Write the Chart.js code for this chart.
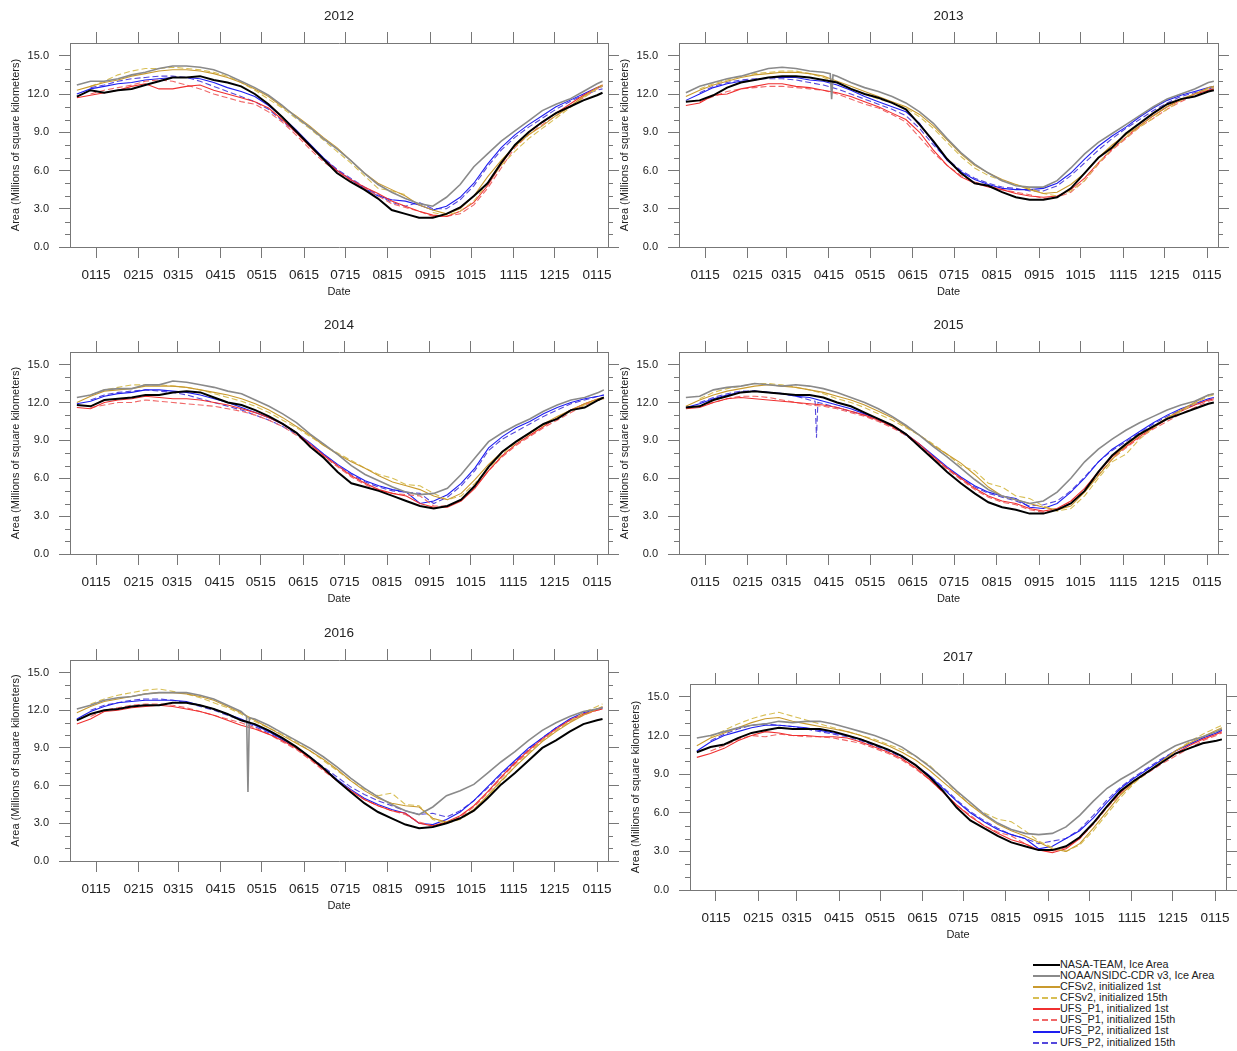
<!DOCTYPE html>
<html>
<head>
<meta charset="utf-8">
<script src="https://cdn.jsdelivr.net/npm/chart.js@4.4.1/dist/chart.umd.min.js"></script>
<style>
  body { margin: 0; background: #fff; width: 1237px; height: 1051px; position: relative; overflow: hidden;
         font-family: "Liberation Sans", Arial, Helvetica, sans-serif; }
  canvas { position: absolute; }
  #legend { position: absolute; left: 1033px; top: 958.7px; }
  #legend .row { height: 11.14px; line-height: 11.14px; font-size: 10.8px; color: #222; white-space: nowrap; }
  #legend .ln { display: inline-block; width: 27px; height: 2px; vertical-align: middle; }
</style>
</head>
<body>
<div id="legend"></div>
<script>
// ================= DATA =================
// day of year (Jan 1 = 0), sampled every 10 days up to Jan 19 of the next year
const days = [0, 10, 20, 30, 40, 50, 60, 70, 80, 90,
              100, 110, 120, 130, 140, 150, 160, 170, 180, 190,
              200, 210, 220, 230, 240, 250, 260, 270, 280, 290,
              300, 310, 320, 330, 340, 350, 360, 370, 380, 384];

// ticks on the 15th of each month (non leap year)
const tickDays = [14, 45, 73, 104, 134, 165, 195, 226, 257, 287, 318, 348, 379];
const tickLabels = ['0115', '0215', '0315', '0415', '0515', '0615', '0715', '0815', '0915', '1015', '1115', '1215', '0115'];
const yTicks = [0, 3, 6, 9, 12, 15];
const yMinorTicks = [1, 2, 4, 5, 7, 8, 10, 11, 13, 14];

const seriesNames = ['NASA-TEAM, Ice Area', 'NOAA/NSIDC-CDR v3, Ice Area',
                     'CFSv2, initialized 1st', 'CFSv2, initialized 15th',
                     'UFS_P1, initialized 1st', 'UFS_P1, initialized 15th',
                     'UFS_P2, initialized 1st', 'UFS_P2, initialized 15th'];

// rows: NASA-TEAM, NOAA, CFSv2 1st, CFSv2 15th, UFS_P1 1st, UFS_P1 15th, UFS_P2 1st, UFS_P2 15th
const area2012 = [
  [11.8,12.3,12.1,12.3,12.4,12.7,13.0,13.3,13.3,13.4, 13.1,12.9,12.6,12.0,11.2,10.2,9.1,8.0,6.9,5.8, 5.1,4.5,3.8,2.9,2.6,2.3,2.3,2.6,3.1,4.0, 5.0,6.6,8.0,9.0,9.8,10.5,11.0,11.5,11.9,12.1],
  [12.7,13.0,13.0,13.2,13.5,13.7,14.0,14.2,14.2,14.1, 13.9,13.5,13.0,12.5,11.9,11.1,10.2,9.4,8.5,7.7, 6.8,5.8,4.9,4.3,3.8,3.4,3.2,3.9,4.9,6.3, 7.3,8.3,9.1,9.9,10.7,11.2,11.6,12.2,12.8,13.0],
  [12.3,12.6,12.9,13.1,13.4,13.6,13.8,13.9,13.9,13.8, 13.6,13.3,12.9,12.4,11.8,11.0,10.3,9.5,8.6,7.8, 6.8,5.8,5.0,4.5,4.0,3.3,2.9,2.6,3.0,4.0, 5.5,6.8,7.9,8.8,9.5,10.3,11.0,11.8,12.5,12.7],
  [null,12.6,13.0,13.5,13.8,14.0,14.0,14.1,14.0,13.9, 13.7,13.4,12.9,12.3,11.6,10.9,10.1,9.3,8.4,7.5, 6.6,5.6,4.6,4.4,4.1,null,2.7,2.5,2.8,3.6, 5.0,6.4,7.5,8.5,9.3,10.1,10.9,11.7,12.4,12.6],
  [11.7,11.9,12.1,12.3,12.6,12.8,12.4,12.4,12.6,12.7, 12.3,12.0,11.7,11.4,10.9,10.0,9.0,7.9,6.9,6.0, 5.3,4.7,4.2,3.6,3.2,2.8,2.5,2.4,2.8,3.5, 4.8,6.5,8.0,9.0,9.8,10.5,11.2,11.9,12.5,12.7],
  [null,12.0,12.3,12.5,12.7,13.0,13.1,13.0,12.7,12.4, 12.0,11.7,11.4,11.2,10.6,9.8,8.8,7.7,6.7,5.9, 5.2,4.6,4.0,3.4,3.1,2.8,2.4,2.4,2.6,3.3, 4.6,6.2,7.8,8.8,9.6,10.3,11.0,11.7,12.4,12.6],
  [12.0,12.4,12.6,12.8,12.9,13.1,13.2,13.3,13.3,13.2, 12.9,12.5,12.2,11.8,11.1,10.2,9.2,8.1,7.0,6.0, 5.3,4.6,4.0,3.7,3.6,3.3,2.9,3.2,3.9,5.0, 6.5,7.8,8.8,9.6,10.3,11.0,11.5,12.0,12.5,12.6],
  [null,12.5,12.7,13.0,13.2,13.3,13.4,13.4,13.3,13.0, 12.6,12.2,11.8,11.4,10.8,9.9,9.0,8.0,7.0,6.1, 5.4,4.7,4.1,3.5,3.2,3.5,3.0,3.0,3.7,4.8, 6.3,7.6,8.6,9.4,10.1,10.8,11.4,11.9,12.3,12.4]
];
const area2013 = [
  [11.4,11.5,11.9,12.5,12.9,13.1,13.3,13.4,13.4,13.3, 13.1,12.9,12.4,12.0,11.7,11.3,10.8,9.6,8.3,6.9, 5.8,5.0,4.8,4.3,3.9,3.7,3.7,3.9,4.6,5.8, 7.0,7.8,8.9,9.7,10.5,11.2,11.6,11.8,12.2,12.3],
  [12.1,12.6,12.9,13.2,13.4,13.7,14.0,14.1,14.0,13.8, 13.7,13.4,12.9,12.5,12.2,11.8,11.3,10.6,9.7,8.5, 7.4,6.5,5.8,5.2,4.8,4.7,4.7,5.2,6.2,7.3, 8.2,8.9,9.6,10.3,11.0,11.6,12.0,12.4,12.9,13.0],
  [11.8,12.3,12.7,13.0,13.3,13.5,13.6,13.7,13.7,13.6, 13.4,13.0,12.6,12.2,11.8,11.4,11.0,10.4,9.5,8.4, 7.3,6.4,5.8,5.3,4.9,4.5,4.2,4.3,4.9,5.8, 7.0,8.0,8.8,9.5,10.3,11.0,11.6,12.0,12.5,12.6],
  [null,12.4,12.8,13.1,13.4,13.6,13.7,13.8,13.8,13.6, 13.3,12.9,12.4,12.0,11.6,11.3,10.9,10.2,9.3,8.2, 7.1,6.2,5.6,5.2,4.9,4.6,4.2,4.0,4.4,5.2, 6.6,7.7,8.6,9.4,10.1,10.8,11.5,12.0,12.4,12.5],
  [11.1,11.3,11.9,12.0,12.4,12.6,12.8,12.8,12.6,12.5, 12.3,12.1,11.8,11.4,11.0,10.5,10.0,9.0,7.6,6.4, 5.5,5.0,4.7,4.5,4.2,4.0,3.9,4.0,4.5,5.4, 6.6,7.7,8.6,9.5,10.3,11.0,11.5,12.0,12.3,12.4],
  [null,11.4,11.8,12.2,12.4,12.5,12.6,12.6,12.5,12.4, 12.3,12.0,11.6,11.2,10.9,10.4,9.8,8.6,7.4,6.4, 5.6,5.1,4.8,4.5,4.3,4.1,3.8,3.9,4.3,5.2, 6.5,7.6,8.5,9.4,10.1,10.8,11.4,11.9,12.3,12.4],
  [11.5,12.0,12.5,12.8,13.0,13.1,13.3,13.3,13.3,13.1, 13.0,12.7,12.3,11.8,11.4,11.0,10.6,9.7,8.2,6.8, 5.9,5.3,4.9,4.6,4.5,4.5,4.6,5.0,5.8,6.9, 7.9,8.7,9.4,10.2,10.9,11.5,11.9,12.2,12.5,12.6],
  [null,12.1,12.6,12.9,13.1,13.2,13.2,13.2,13.1,12.9, 12.7,12.4,12.0,11.6,11.2,10.8,10.3,9.3,8.0,6.9, 6.0,5.4,5.0,4.7,4.6,4.4,4.4,4.8,5.6,6.6, 7.6,8.5,9.3,10.0,10.7,11.3,11.8,12.1,12.4,12.5]
];
const area2014 = [
  [11.8,11.7,12.2,12.3,12.4,12.6,12.6,12.8,12.9,12.8, 12.4,12.0,11.8,11.4,10.9,10.3,9.6,8.5,7.6,6.5, 5.6,5.3,5.0,4.6,4.2,3.8,3.6,3.8,4.3,5.4, 6.9,8.1,8.9,9.6,10.3,10.7,11.4,11.6,12.2,12.4],
  [12.4,12.6,13.0,13.1,13.1,13.4,13.4,13.7,13.6,13.4, 13.2,12.9,12.7,12.2,11.7,11.1,10.4,9.5,8.7,7.9, 7.0,6.3,5.8,5.3,4.9,4.7,4.8,5.2,6.3,7.6, 8.9,9.6,10.2,10.7,11.3,11.8,12.2,12.4,12.8,13.0],
  [12.0,12.5,12.9,13.0,13.1,13.3,13.3,13.3,13.2,13.0, 12.8,12.6,12.3,11.9,11.4,10.8,10.1,9.4,8.6,7.9, 7.3,6.8,6.2,5.7,5.4,5.1,4.6,4.3,4.8,5.9, 7.1,8.1,8.9,9.6,10.3,10.9,11.4,11.9,12.3,12.4],
  [null,12.6,13.0,13.2,13.4,13.4,13.4,13.3,13.2,13.0, 12.7,12.4,12.1,11.7,11.2,10.6,10.0,9.3,8.6,8.0, 7.4,6.8,6.3,6.0,5.5,5.4,4.8,4.3,4.6,5.6, 6.8,7.9,8.8,9.5,10.2,10.8,11.3,11.8,12.2,12.3],
  [11.6,11.5,12.0,12.2,12.3,12.5,12.4,12.3,12.3,12.2, 12.0,11.8,11.5,11.2,10.8,10.3,9.6,8.7,7.8,7.0, 6.2,5.6,5.1,4.8,4.6,4.0,3.7,3.7,4.2,5.2, 6.6,7.8,8.7,9.4,10.1,10.8,11.4,11.9,12.3,12.4],
  [null,11.6,11.8,12.0,12.0,12.2,12.1,12.0,11.9,11.8, 11.7,11.5,11.3,11.0,10.6,10.1,9.4,8.6,7.7,6.9, 6.1,5.5,5.0,4.8,4.7,4.6,3.8,3.8,4.3,5.3, 6.6,7.7,8.6,9.3,10.0,10.6,11.2,11.8,12.2,12.3],
  [11.9,12.1,12.5,12.7,12.8,13.0,13.0,12.9,12.8,12.6, 12.3,12.0,11.6,11.2,10.8,10.3,9.6,8.8,7.9,7.1, 6.4,5.8,5.4,5.1,4.9,4.0,4.2,4.7,5.6,6.8, 8.4,9.3,10.0,10.5,11.1,11.6,12.0,12.3,12.5,12.6],
  [null,12.2,12.6,12.8,12.9,13.0,12.9,12.8,12.6,12.3, 12.0,11.7,11.4,11.0,10.6,10.1,9.5,8.7,7.8,7.0, 6.3,5.7,5.3,5.0,4.9,4.8,4.0,4.5,5.4,6.6, 8.2,9.1,9.7,10.3,10.9,11.4,11.9,12.2,12.5,12.6]
];
const area2015 = [
  [11.6,11.7,12.2,12.5,12.8,12.9,12.8,12.7,12.6,12.6, 12.4,12.0,11.7,11.2,10.7,10.2,9.5,8.5,7.5,6.5, 5.6,4.8,4.1,3.7,3.5,3.2,3.2,3.5,4.0,5.0, 6.5,7.8,8.7,9.5,10.1,10.7,11.1,11.5,11.9,12.0],
  [12.4,12.5,13.0,13.2,13.3,13.5,13.4,13.3,13.4,13.3, 13.1,12.8,12.4,12.0,11.5,10.9,10.2,9.4,8.5,7.7, 6.8,5.9,5.1,4.6,4.3,4.0,4.2,4.9,6.0,7.3, 8.3,9.1,9.8,10.4,10.9,11.4,11.8,12.1,12.6,12.7],
  [11.7,12.2,12.6,12.9,13.1,13.3,13.4,13.3,13.2,13.0, 12.8,12.5,12.2,11.8,11.3,10.8,10.1,9.4,8.6,7.9, 7.2,6.3,5.3,4.6,4.3,4.0,3.7,3.5,3.8,4.9, 6.2,7.5,8.6,9.4,10.1,10.8,11.4,12.0,12.6,12.7],
  [null,12.3,12.8,13.1,13.3,13.5,13.5,13.4,13.2,13.0, 12.7,12.3,12.0,11.6,11.1,10.6,10.0,9.4,8.7,7.9, 7.0,6.6,5.6,5.3,4.6,4.4,3.8,3.4,3.6,4.6, 6.0,7.3,7.9,9.1,10.0,10.7,11.3,11.9,12.5,12.6],
  [11.5,11.6,12.0,12.3,12.4,12.3,12.2,12.1,12.0,11.9, 11.8,11.6,11.3,11.0,10.6,10.1,9.5,8.7,7.7,6.8, 6.0,5.2,4.6,4.2,4.0,3.6,3.4,3.6,4.2,5.2, 6.5,7.7,8.5,9.3,10.0,10.7,11.3,11.8,12.2,12.3],
  [null,11.7,12.0,12.3,12.5,12.5,12.4,12.2,12.0,11.8, 11.7,11.5,11.2,10.9,10.5,10.0,9.4,8.6,7.6,6.7, 5.9,5.1,4.5,4.1,3.9,3.5,3.3,3.5,4.1,5.0, 6.3,7.5,8.4,9.2,9.9,10.5,11.1,11.6,12.1,12.2],
  [11.6,11.9,12.3,12.6,12.8,12.9,12.8,12.7,12.5,12.4, 12.1,11.8,11.5,11.1,10.7,10.2,9.5,8.7,7.8,6.9, 6.1,5.4,4.9,4.6,4.4,3.7,3.6,4.0,4.9,6.0, 7.3,8.3,9.0,9.7,10.4,11.0,11.5,11.9,12.3,12.4],
  [null,12.0,12.4,12.7,12.9,12.9,12.8,12.7,12.5,12.2, 11.9,11.6,11.3,11.0,10.6,10.1,9.4,8.6,7.7,6.8, 6.0,5.3,4.8,4.5,4.2,3.8,3.9,4.2,5.0,6.1, 7.3,8.2,8.9,9.6,10.3,10.9,11.4,11.8,12.2,12.3]
];
const area2016 = [
  [11.2,11.7,12.0,12.1,12.3,12.4,12.4,12.6,12.6,12.4, 12.1,11.7,11.2,10.9,10.4,9.8,9.1,8.3,7.4,6.4, 5.5,4.6,3.9,3.4,2.9,2.6,2.7,3.0,3.4,4.0, 5.0,6.1,7.0,8.0,9.0,9.6,10.3,10.9,11.2,11.3],
  [12.1,12.4,12.8,13.0,13.1,13.3,13.4,13.4,13.4,13.2, 12.9,12.4,11.9,11.3,10.8,10.2,9.6,9.0,8.3,7.5, 6.6,5.8,5.1,4.5,4.0,3.7,4.3,5.2,5.6,6.1, 7.0,7.9,8.7,9.6,10.4,11.0,11.5,11.9,12.1,12.2],
  [11.8,12.3,12.7,12.9,13.1,13.3,13.4,13.4,13.3,13.1, 12.8,12.3,11.8,11.2,10.6,10.0,9.4,8.8,8.1,7.3, 6.4,5.6,5.0,4.6,4.4,4.3,3.4,3.1,3.4,4.1, 5.2,6.4,7.5,8.5,9.5,10.3,11.0,11.6,12.1,12.3],
  [null,12.5,12.9,13.2,13.4,13.6,13.7,13.5,13.3,13.0, 12.6,12.2,11.7,11.1,10.6,10.1,9.5,8.8,8.0,7.2, 6.4,5.7,5.2,5.4,4.5,4.4,3.3,3.0,3.3,4.0, 5.1,6.3,7.5,8.6,9.6,10.4,11.1,11.8,12.3,12.5],
  [10.9,11.3,11.9,12.0,12.2,12.3,12.4,12.3,12.1,11.9, 11.6,11.2,10.8,10.5,10.1,9.6,9.0,8.2,7.3,6.4, 5.6,4.9,4.4,4.0,3.8,3.0,2.8,3.1,3.6,4.4, 5.5,6.7,7.8,8.8,9.7,10.5,11.2,11.7,12.0,12.1],
  [null,11.5,12.0,12.2,12.4,12.5,12.5,12.4,12.2,11.9, 11.6,11.3,11.0,10.6,10.1,9.5,8.9,8.1,7.2,6.4, 5.6,4.9,4.4,4.0,3.7,3.1,2.8,3.0,3.5,4.3, 5.4,6.6,7.7,8.7,9.6,10.4,11.1,11.6,12.0,12.1],
  [11.3,11.9,12.3,12.6,12.7,12.8,12.8,12.8,12.7,12.4, 12.1,11.7,11.3,10.8,10.3,9.7,9.1,8.3,7.4,6.5, 5.7,5.0,4.5,4.1,3.8,3.0,2.9,3.3,3.9,4.8, 5.9,7.0,8.0,9.0,9.8,10.6,11.3,11.8,12.1,12.2],
  [null,12.0,12.4,12.6,12.8,12.9,12.9,12.8,12.6,12.3, 12.0,11.6,11.2,10.7,10.2,9.6,9.0,8.3,7.5,6.7, 5.9,5.3,4.8,4.4,4.0,3.7,3.8,3.5,4.0,4.8, 5.8,6.9,7.9,8.9,9.8,10.6,11.2,11.7,12.1,12.2]
];
const area2017 = [
  [10.7,11.1,11.3,11.8,12.2,12.4,12.6,12.5,12.5,12.5, 12.3,12.0,11.7,11.3,10.9,10.4,9.7,8.8,7.7,6.4, 5.4,4.8,4.2,3.7,3.4,3.1,3.1,3.4,4.1,5.2, 6.5,7.7,8.5,9.2,9.9,10.6,11.0,11.4,11.6,11.7],
  [11.8,12.0,12.3,12.6,12.8,12.9,13.1,13.0,13.1,13.1, 12.9,12.6,12.3,12.0,11.6,11.1,10.4,9.6,8.7,7.7, 6.8,5.9,5.2,4.7,4.4,4.3,4.4,4.9,5.8,6.9, 7.9,8.6,9.2,9.9,10.6,11.2,11.6,11.9,12.3,12.5],
  [11.2,11.8,12.2,12.6,13.0,13.3,13.4,13.1,12.9,12.7, 12.5,12.3,12.0,11.6,11.2,10.7,10.1,9.3,8.4,7.5, 6.6,5.8,5.1,4.6,4.2,3.7,3.2,3.0,3.6,4.8, 6.1,7.4,8.4,9.2,10.0,10.8,11.4,11.9,12.4,12.6],
  [null,11.9,12.4,12.9,13.3,13.6,13.8,13.5,13.2,12.9, 12.6,12.3,12.0,11.7,11.3,10.9,10.4,9.7,8.7,7.6, 6.6,6.0,5.5,5.3,4.6,3.8,3.3,3.0,3.5,4.6, 5.9,7.2,8.3,9.2,10.0,10.8,11.5,12.1,12.6,12.8],
  [10.3,10.6,11.0,11.6,12.0,12.3,12.2,12.0,12.0,11.9, 11.9,11.8,11.5,11.1,10.7,10.2,9.5,8.6,7.6,6.6, 5.7,5.0,4.4,3.9,3.6,3.1,2.9,3.2,4.0,5.2, 6.5,7.6,8.5,9.2,9.9,10.6,11.2,11.7,12.1,12.3],
  [null,10.8,11.2,11.7,12.0,11.9,12.1,12.0,11.9,11.9, 11.8,11.6,11.4,11.0,10.6,10.1,9.4,8.6,7.6,6.6, 5.8,5.0,4.5,4.2,3.6,3.1,3.0,3.3,4.0,5.1, 6.4,7.5,8.4,9.1,9.8,10.4,11.0,11.6,12.0,12.2],
  [10.8,11.5,12.0,12.3,12.6,12.8,12.8,12.7,12.6,12.4, 12.2,12.0,11.7,11.3,10.9,10.4,9.7,8.9,7.9,6.9, 6.0,5.3,4.7,4.3,4.0,3.2,3.4,4.0,4.6,5.6, 6.8,7.9,8.7,9.4,10.1,10.8,11.3,11.8,12.2,12.4],
  [null,11.6,12.1,12.5,12.8,12.9,12.8,12.7,12.5,12.3, 12.1,11.9,11.6,11.2,10.8,10.3,9.7,8.9,8.0,7.0, 6.1,5.4,4.8,4.3,4.0,3.6,3.8,4.0,4.7,5.8, 7.0,8.0,8.8,9.5,10.2,10.8,11.3,11.8,12.2,12.4]
];

// single-day dropouts visible in the picture: [day, value]
const spike2013 = [[105, 13.6], [106, 11.6], [107, 13.5]];   // NOAA
const spike2015 = [[94, 12.1], [95, 9.2], [96, 12.0]];       // UFS_P2 15th
const spike2016 = [[124, 11.5], [125, 5.5], [126, 11.4]];    // NOAA

// ================= STYLE / LAYOUT =================
const lineColors = ['#000000', '#8a8a8a', '#c99a2e', '#d8bf55', '#f03030', '#f06868', '#1e1ef0', '#5548dc'];
const lineDash = [[], [], [], [6, 3], [], [6, 3], [], [6, 3]];
const lineWidths = [2, 1.6, 1.1, 1.1, 1.1, 1.1, 1.1, 1.1];
const frameColor = '#777';
const textColor = '#222';

// frame of each plot: [left, top, right, bottom]
const panels = [
  { year: '2012', data: area2012, leap: true,  frame: [70, 43, 608, 247] },
  { year: '2013', data: area2013, leap: false, frame: [679, 43, 1218, 247], spike: [1, spike2013] },
  { year: '2014', data: area2014, leap: false, frame: [70, 352, 608, 554] },
  { year: '2015', data: area2015, leap: false, frame: [679, 352, 1218, 554], spike: [7, spike2015] },
  { year: '2016', data: area2016, leap: true,  frame: [70, 660, 608, 861], spike: [1, spike2016] },
  { year: '2017', data: area2017, leap: false, frame: [690, 684, 1226, 890] }
];

Chart.defaults.font.family = '"Liberation Sans", Arial, Helvetica, sans-serif';
Chart.defaults.color = textColor;

// short minor ticks on the left and right y axes
const minorTicks = {
  id: 'minorTicks',
  afterDraw(chart) {
    const ctx = chart.ctx, a = chart.chartArea, ys = chart.scales.y;
    ctx.save();
    ctx.strokeStyle = frameColor;
    ctx.lineWidth = 1;
    ctx.beginPath();
    yMinorTicks.forEach(v => {
      const p = Math.round(ys.getPixelForValue(v)) + 0.5;
      ctx.moveTo(a.left - 5, p); ctx.lineTo(a.left, p);
      ctx.moveTo(a.right, p); ctx.lineTo(a.right + 5, p);
    });
    ctx.stroke();
    ctx.restore();
  }
};

function toPoints(values, extra) {
  if (values.length !== days.length) throw new Error('bad length ' + values.length);
  const pts = values.map((v, i) => ({ x: days[i], y: v }));
  if (extra) extra.forEach(p => pts.push({ x: p[0], y: p[1] }));
  pts.sort((a, b) => a.x - b.x);
  return pts;
}

panels.forEach(p => {
  const [L, T, R, B] = p.frame;
  const canvas = document.createElement('canvas');
  canvas.width = (R - L) + 70 + 15;
  canvas.height = (B - T) + 43 + 62;
  canvas.style.left = (L - 70) + 'px';
  canvas.style.top = (T - 43) + 'px';
  document.body.appendChild(canvas);

  const ticks = tickDays.map((d, i) => (p.leap && i >= 2 ? d + 1 : d));
  const xMin = -5, xMax = p.leap ? 388 : 387;

  const datasets = p.data.map((vals, i) => ({
    label: seriesNames[i],
    data: toPoints(vals, p.spike && p.spike[0] === i ? p.spike[1] : null),
    borderColor: lineColors[i],
    borderWidth: lineWidths[i],
    borderDash: lineDash[i],
    pointRadius: 0,
    tension: 0,
    spanGaps: false
  }));

  const grid = { drawOnChartArea: false, tickLength: 11, color: frameColor, lineWidth: 1 };
  const border = { color: frameColor, width: 1 };

  new Chart(canvas, {
    type: 'line',
    data: { datasets },
    options: {
      responsive: false,
      animation: false,
      layout: { padding: 0 },
      plugins: { legend: { display: false }, tooltip: { enabled: false } },
      scales: {
        x: {
          type: 'linear', position: 'bottom', min: xMin, max: xMax,
          afterBuildTicks: s => { s.ticks = ticks.map(v => ({ value: v })); },
          ticks: { autoSkip: false, maxRotation: 0, padding: 9, font: { size: 13.5 },
                   callback: (v, i) => tickLabels[i] },
          grid, border,
          title: { display: true, text: 'Date', font: { size: 11 }, padding: { top: 0, bottom: 10 } },
          afterFit: s => { s.height = 62; }
        },
        x2: {
          type: 'linear', axis: 'x', position: 'top', min: xMin, max: xMax,
          afterBuildTicks: s => { s.ticks = ticks.map(v => ({ value: v })); },
          ticks: { display: false },
          grid, border,
          title: { display: true, text: p.year, font: { size: 13.5 }, padding: { top: 8, bottom: 0 } },
          afterFit: s => { s.height = 43; }
        },
        y: {
          type: 'linear', position: 'left', min: 0, max: 16,
          afterBuildTicks: s => { s.ticks = yTicks.map(v => ({ value: v })); },
          ticks: { padding: 10, font: { size: 11 }, callback: v => v.toFixed(1) },
          grid, border,
          title: { display: true, text: 'Area (Millions of square kilometers)', font: { size: 11 },
                   padding: { top: 9, bottom: 0 } },
          afterFit: s => { s.width = 70; }
        },
        y2: {
          type: 'linear', axis: 'y', position: 'right', min: 0, max: 16,
          afterBuildTicks: s => { s.ticks = yTicks.map(v => ({ value: v })); },
          ticks: { display: false },
          grid, border,
          afterFit: s => { s.width = 15; }
        }
      }
    },
    plugins: [minorTicks]
  });
});

// ================= LEGEND =================
const legend = document.getElementById('legend');
seriesNames.forEach((name, i) => {
  const row = document.createElement('div');
  row.className = 'row';
  const ln = document.createElement('span');
  ln.className = 'ln';
  ln.style.background = lineDash[i].length
    ? `repeating-linear-gradient(to right, ${lineColors[i]} 0 6px, transparent 6px 9px)`
    : lineColors[i];
  row.appendChild(ln);
  row.appendChild(document.createTextNode(name));
  legend.appendChild(row);
});
</script>
</body>
</html>
